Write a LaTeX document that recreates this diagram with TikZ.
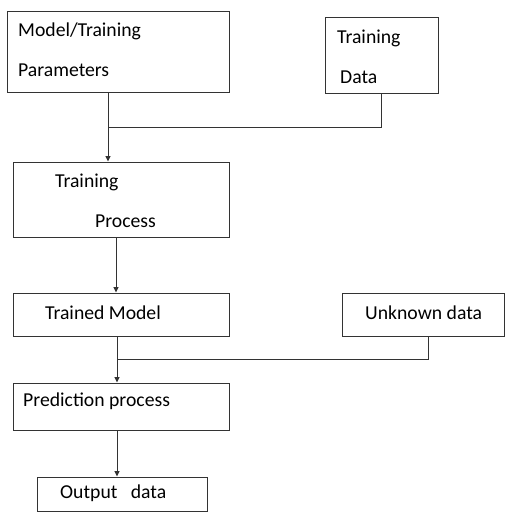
\documentclass[tikz,border=0pt]{standalone}
\usepackage{fontspec}
\setmainfont{Carlito}
\usetikzlibrary{arrows.meta}
\begin{document}
\begin{tikzpicture}[x=1pt, y=-1pt, >={Triangle[length=5.5pt,width=5pt]},
		box/.style={draw=black!80, line width=1pt, inner sep=0pt},
		lbl/.style={anchor=base west, inner sep=0pt, text=black, font=\fontsize{19.7}{24}\selectfont},
		line/.style={draw=black!80, line width=1pt}]
	\useasboundingbox (0,0) rectangle (505,512);
	
	% Các hộp
	\node[box, minimum width=222pt, minimum height=81pt] (params) at (118,51.5) {};
	\node[box, minimum width=113pt, minimum height=76pt] (tdata) at (381.5,55) {};
	\node[box, minimum width=216pt, minimum height=75pt] (train) at (121,199.5) {};
	\node[box, minimum width=216pt, minimum height=43pt] (trained) at (121,314.5) {};
	\node[box, minimum width=162pt, minimum height=43pt] (unknown) at (423,314.5) {};
	\node[box, minimum width=216pt, minimum height=47pt] (predict) at (121,406.5) {};
	\node[box, minimum width=170pt, minimum height=34pt] (output) at (122,494) {};
	
	% Nhãn
	\node[lbl] (paramsA) at (18,36) {Model/Training};
	\node[lbl] (paramsB) at (18,76) {Parameters};
	\node[lbl] (tdataA) at (337,43) {Training};
	\node[lbl] (tdataB) at (340,83) {Data};
	\node[lbl] (trainA) at (55,187) {Training};
	\node[lbl] (trainB) at (95,227) {Process};
	\node[lbl] (trainedA) at (45,319) {Trained Model};
	\node[lbl] (unknownA) at (365,319) {Unknown data};
	\node[lbl] (predictA) at (23,406) {Prediction process};
	\node[lbl] (outputA) at (60,498) {Output\ \ \ data};
	
	% Điểm nối
	\coordinate (j1) at (108,127);
	\coordinate (j2) at (117,359);
	
	% Các mũi tên
	\draw[line,->] (j1 |- params.south) -- (j1 |- train.north);
	\draw[line] (tdata.south) -- (tdata.south |- j1) -- (j1);
	\draw[line,->] (116,0 |- train.south) -- (116,0 |- trained.north);
	\draw[line,->] (j2 |- trained.south) -- (j2 |- predict.north);
	\draw[line] ([xshift=5pt]unknown.south) -- ([xshift=5pt]unknown.south |- j2) -- (j2);
	\draw[line,->] (j2 |- predict.south) -- (j2 |- output.north);
\end{tikzpicture}
\end{document}
